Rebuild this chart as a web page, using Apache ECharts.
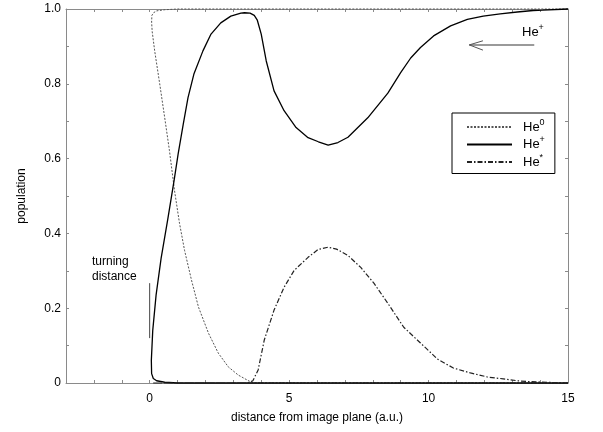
<!DOCTYPE html>
<html>
<head>
<meta charset="utf-8">
<script src="https://cdn.jsdelivr.net/npm/echarts@6/dist/echarts.min.js"></script>
<style>html,body{margin:0;padding:0;background:#fff}#c{width:603px;height:432px}</style>
</head>
<body>
<div id="c"></div>
<script>
// ---- data (x = distance a.u., y = population), trajectory order: incoming then outgoing ----
const heZeroPath = [
  [15,0],[3.8,0],[3.57,0.005],[3.18,0.021],[2.82,0.043],[2.46,0.08],[2.11,0.133],[1.75,0.203],
  [1.5,0.275],[1.25,0.355],[1.07,0.427],[0.89,0.515],[0.71,0.621],[0.54,0.709],[0.36,0.8],
  [0.18,0.888],[0.09,0.94],[0.07,0.965],[0.08,0.983],[0.14,0.99],[0.25,0.995],[0.54,0.998],[1,1],[15,1]
];
const hePlusPath = [
  [15,1.0],[14.1,0.997],[13.75,0.996],[13.18,0.992],[12.57,0.987],[11.96,0.981],[11.39,0.972],
  [10.79,0.955],[10.18,0.928],[9.71,0.897],[9.36,0.869],[9.0,0.830],[8.54,0.775],[7.82,0.709],
  [7.11,0.657],[6.75,0.643],[6.4,0.636],[6.05,0.645],[5.68,0.656],[5.25,0.683],[4.82,0.728],
  [4.46,0.781],[4.18,0.861],[4.0,0.933],[3.86,0.97],[3.75,0.983],[3.6,0.989],[3.4,0.990],
  [3.27,0.989],[2.91,0.981],[2.55,0.963],[2.2,0.933],[1.91,0.888],[1.59,0.827],[1.375,0.763],
  [1.2,0.690],[1.02,0.612],[0.875,0.541],[0.65,0.438],[0.41,0.333],[0.23,0.235],[0.11,0.14],
  [0.06,0.06],[0.07,0.025],[0.13,0.012],[0.25,0.006],[0.54,0.002],[1.0,0],[15,0]
];
const heStarPath = [
  [15,0],[14.5,0.001],[13.89,0.003],[13.29,0.005],[12.68,0.011],[12.11,0.016],[11.5,0.027],
  [10.89,0.04],[10.32,0.064],[9.71,0.107],[9.11,0.149],[8.54,0.213],[8.04,0.267],[7.57,0.309],
  [7.11,0.341],[6.7,0.358],[6.39,0.363],[6.04,0.357],[5.68,0.336],[5.18,0.301],[4.82,0.256],
  [4.46,0.195],[4.11,0.115],[3.89,0.035],[3.7,0.006],[3.5,0],[0.1,0],[0.08,0.004],[0.15,0.001],[15,0]
];
const turningMarker = [[0,0.12],[0,0.267]];
const arrowShaft = [[13.79,0.904],[11.46,0.904]];
const arrowHead = [[11.95,0.915],[11.46,0.904],[11.95,0.890]];
const xTickLabels = ['0','5','10','15'];
const yTickLabels = ['0','0.2','0.4','0.6','0.8','1.0'];
const seriesNames = ['He0','He+','He*'];
const seriesSup = {'He0':'0','He+':'+','He*':'*'};

const FONT = 'Liberation Sans, Arial, sans-serif';
const axisGray = '#8a8a8a';
const chart = echarts.init(document.getElementById('c'), null, {renderer:'canvas'});

const baseX = {
  type:'value', min:-3, max:15, interval:1,
  axisLine:{show:true, onZero:false, lineStyle:{color:axisGray, width:1}},
  axisTick:{show:true, inside:true, length:3, lineStyle:{color:axisGray}},
  splitLine:{show:false}
};
const baseY = {
  type:'value', min:0, max:1, interval:0.1,
  axisLine:{show:true, onZero:false, lineStyle:{color:axisGray, width:1}},
  axisTick:{show:true, inside:true, length:3, lineStyle:{color:axisGray}},
  splitLine:{show:false}
};

function fmtX(v){ const s = String(Math.round(v)); return (Math.abs(v - Math.round(v))<1e-6 && xTickLabels.indexOf(s)>=0) ? s : ''; }
function fmtY(v){ const s = (Math.abs(v)<1e-9) ? '0' : v.toFixed(1); return yTickLabels.indexOf(s)>=0 ? s : ''; }

chart.setOption({
  animation:false,
  backgroundColor:'#fff',
  textStyle:{fontFamily:FONT},
  grid:{left:66, right:35, top:9, bottom:49, containLabel:false},
  xAxis:[
    Object.assign({}, baseX, {position:'bottom',
      name:'distance from image plane (a.u.)', nameLocation:'middle', nameGap:29,
      nameTextStyle:{fontSize:12, color:'#000', fontFamily:FONT},
      axisLabel:{show:true, margin:10, fontSize:12, color:'#000', fontFamily:FONT, formatter:fmtX}}),
    Object.assign({}, baseX, {position:'top', axisLabel:{show:false}})
  ],
  yAxis:[
    Object.assign({}, baseY, {position:'left',
      name:'population', nameLocation:'middle', nameGap:38, nameRotate:90,
      nameTextStyle:{fontSize:12, color:'#000', fontFamily:FONT},
      axisLabel:{show:true, margin:5, fontSize:12, color:'#000', fontFamily:FONT, formatter:fmtY}}),
    Object.assign({}, baseY, {position:'right', axisLabel:{show:false}})
  ],
  legend:{
    show:true, orient:'vertical', left:452, top:113,
    data:seriesNames,
    itemWidth:45, itemHeight:14, itemGap:2,
    padding:[5,10,5,14],
    borderColor:'#000', borderWidth:1, backgroundColor:'#fff',
    selectedMode:false,
    itemStyle:{opacity:0},
    formatter:function(n){ return '{b|He}{s|' + seriesSup[n] + '}'; },
    textStyle:{
      rich:{
        b:{fontSize:13, color:'#000', fontFamily:FONT, padding:[0,0,0,6]},
        s:{fontSize:9, color:'#000', fontFamily:FONT, verticalAlign:'top', padding:[0,0,9,0]}
      }
    }
  },
  series:[
    {name:'He0', type:'line', data:heZeroPath, showSymbol:false, symbol:'none', clip:false, silent:true,
     itemStyle:{color:'#555'}, lineStyle:{color:'#555', width:1, type:[2,1.5]}},
    {name:'He+', type:'line', data:hePlusPath, showSymbol:false, symbol:'none', clip:false, silent:true,
     itemStyle:{color:'#000'}, lineStyle:{color:'#000', width:1.3, type:'solid'}},
    {name:'He*', type:'line', data:heStarPath, showSymbol:false, symbol:'none', clip:false, silent:true,
     itemStyle:{color:'#222'}, lineStyle:{color:'#222', width:1.2, type:[5,2,1.5,2]}},
    {name:'turning', type:'line', data:turningMarker, showSymbol:false, symbol:'none', silent:true,
     lineStyle:{color:'#444', width:1}},
    {name:'arrowShaft', type:'line', data:arrowShaft, showSymbol:false, symbol:'none', silent:true,
     lineStyle:{color:'#9a9a9a', width:2}},
    {name:'arrowHead', type:'line', data:arrowHead, showSymbol:false, symbol:'none', silent:true,
     lineStyle:{color:'#555', width:1}}
  ],
  graphic:[
    {type:'text', left:92, top:254, silent:true,
     style:{text:'turning\ndistance', fill:'#000', font:'12px ' + FONT, lineHeight:15}},
    {type:'text', left:522, top:23, silent:true,
     style:{text:'{b|He}{s|+}', fill:'#000',
       rich:{b:{fontSize:13, fontFamily:FONT, fill:'#000'},
             s:{fontSize:9, fontFamily:FONT, fill:'#000', verticalAlign:'top', padding:[0,0,9,0]}}}}
  ]
});
</script>
</body>
</html>
